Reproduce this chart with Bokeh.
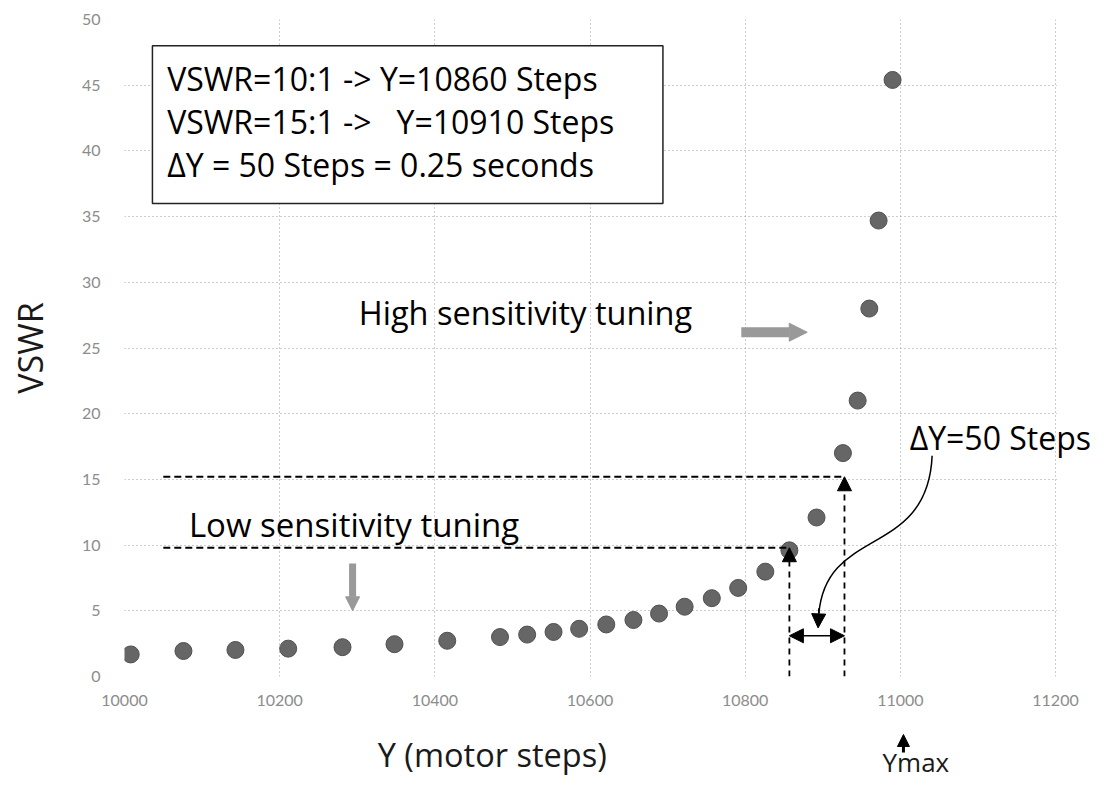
from bokeh.plotting import figure
from bokeh.layouts import column
from bokeh.models import (Range1d, SingleIntervalTicker, BasicTickFormatter, Label,
                          Arrow, NormalHead, BoxAnnotation)
from bokeh.embed import file_html
from bokeh.resources import INLINE

# ---- data ----
steps = [10008, 10076, 10143, 10211, 10281, 10348, 10416, 10484, 10519, 10553,
         10586, 10621, 10656, 10689, 10722, 10757, 10791, 10826, 10857, 10892,
         10926, 10945, 10960, 10972, 10990]
vswr = [1.68, 1.94, 2.02, 2.12, 2.23, 2.46, 2.72, 3.0, 3.19, 3.39,
        3.63, 3.96, 4.30, 4.79, 5.31, 5.96, 6.74, 7.98, 9.6, 12.1,
        17.0, 21.0, 28.0, 34.7, 45.4]

box_lines = ["VSWR=10:1 -> Y=10860 Steps",
             "VSWR=15:1 ->\u00a0\u00a0 Y=10910 Steps",
             "\u0394Y = 50 Steps = 0.25 seconds"]

x_ticks_step = 200
y_ticks_step = 5

# annotation anchors (data units)
y10_step, y15_step = 10857, 10928
v10, v15 = 9.8, 15.2

FONT = "Open Sans"
TICKFONT = "Lato"
W = 1100

p = figure(width=W, height=715, output_backend="svg", toolbar_location=None,
           x_range=Range1d(10000, 11258), y_range=Range1d(0, 50),
           min_border_left=124, min_border_right=0, min_border_top=19,
           min_border_bottom=39)
p.outline_line_color = None

for ax in (p.xaxis[0], p.yaxis[0]):
    ax.axis_line_color = None
    ax.major_tick_line_color = None
    ax.minor_tick_line_color = None
    ax.major_label_text_color = "#8c8c8c"
    ax.major_label_text_font = TICKFONT
    ax.major_label_text_font_size = "16px"
p.xaxis.major_label_standoff = 12
p.yaxis.major_label_standoff = 18
p.xaxis.ticker = SingleIntervalTicker(interval=x_ticks_step)
p.xaxis.formatter = BasicTickFormatter(use_scientific=False)
p.yaxis.ticker = SingleIntervalTicker(interval=y_ticks_step)
p.yaxis.axis_label = "VSWR"
p.yaxis.axis_label_text_font = FONT
p.yaxis.axis_label_text_font_style = "normal"
p.yaxis.axis_label_text_font_size = "34px"
p.yaxis.axis_label_text_color = "#1a1a1a"
p.yaxis.axis_label_standoff = 26

p.grid.grid_line_color = "#9a9a9a"
p.grid.grid_line_dash = "1 3"
p.grid.grid_line_width = 1

# white strip hiding the horizontal grid to the right of the last x tick
p.add_layout(BoxAnnotation(left=11202, fill_color="white", fill_alpha=1.0,
                           line_alpha=0, level="annotation"))

# data points
p.scatter(steps, vswr, size=17, fill_color="#666666", line_color="#505050")

# text box
p.add_layout(BoxAnnotation(left=10036, right=10694, bottom=36.0, top=48.0,
                           fill_color="white", fill_alpha=1.0,
                           line_color="#222222", line_alpha=1.0, line_width=1.5,
                           level="overlay"))
for i, t in enumerate(box_lines):
    p.add_layout(Label(x=10055, y=45.5 - 3.25 * i, text=t, text_font=FONT,
                       text_font_size="32px", text_baseline="middle",
                       text_color="black", level="overlay"))

# dashed guides
p.segment(x0=[10050, 10050], y0=[v15, v10], x1=[y15_step, y10_step], y1=[v15, v10],
          line_color="black", line_width=1.8, line_dash="7 4")
for xs, yt in ((y10_step, v10), (y15_step, v15)):
    p.add_layout(Arrow(x_start=xs, y_start=0, x_end=xs, y_end=yt,
                       line_color="black", line_width=1.8, line_dash="6 5",
                       end=NormalHead(size=14, fill_color="black", line_color="black")))

# double arrow for delta Y
p.add_layout(Arrow(x_start=y10_step, y_start=3.1, x_end=y15_step, y_end=3.1,
                   line_color="black", line_width=1.5,
                   start=NormalHead(size=14, fill_color="black", line_color="black"),
                   end=NormalHead(size=14, fill_color="black", line_color="black")))

# curved arrow from the delta label
p.bezier(x0=[11041], y0=[16.8], x1=[10895], y1=[4.8], cx0=[11035], cy0=[9.0],
         cx1=[10905], cy1=[11.5], line_color="black", line_width=1.5)
p.add_layout(Arrow(x_start=10895, y_start=5.2, x_end=10894, y_end=3.7,
                   line_color="black", line_width=1.5,
                   end=NormalHead(size=14, fill_color="black", line_color="black")))
p.add_layout(Label(x=11012, y=18.2, text="\u0394Y=50 Steps", text_font=FONT,
                   text_font_size="32px", text_baseline="middle", text_color="black"))

# sensitivity labels & grey arrows
p.add_layout(Label(x=10302, y=27.7, text="High sensitivity tuning", text_font=FONT,
                   text_font_size="32.5px", text_baseline="middle", text_color="black"))
p.add_layout(Label(x=10083, y=11.6, text="Low sensitivity tuning", text_font=FONT,
                   text_font_size="33px", text_baseline="middle", text_color="black"))
p.add_layout(Arrow(x_start=10795, y_start=26.2, x_end=10880, y_end=26.2,
                   line_color="#999999", line_width=10,
                   end=NormalHead(size=18, fill_color="#999999", line_color="#999999")))
p.add_layout(Arrow(x_start=10294, y_start=8.6, x_end=10294, y_end=5.0,
                   line_color="#999999", line_width=7,
                   end=NormalHead(size=14, fill_color="#999999", line_color="#999999")))

# ---- strip below the chart: x axis title and Ymax marker ----
p2 = figure(width=W, height=67, output_backend="svg", toolbar_location=None,
            x_range=p.x_range, y_range=Range1d(0, 67),
            x_axis_location=None, y_axis_location=None,
            min_border_left=124, min_border_right=0, min_border_top=0,
            min_border_bottom=0)
p2.outline_line_color = None
p2.grid.visible = False
p2.add_layout(Label(x=10474, y=28, text="Y (motor steps)", text_font=FONT,
                    text_font_size="32.5px", text_align="center", text_baseline="middle",
                    text_color="#1a1a1a"))
p2.add_layout(Arrow(x_start=11004, y_start=30, x_end=11004, y_end=48,
                    line_color="black", line_width=3,
                    end=NormalHead(size=12, fill_color="black", line_color="black")))
p2.add_layout(Label(x=11020, y=3, text="Ymax", text_font=FONT,
                    text_font_size="26px", text_align="center", text_baseline="bottom",
                    text_color="#1a1a1a"))

layout = column(p, p2, spacing=0)
open("out.html", "w").write(file_html(layout, INLINE))
